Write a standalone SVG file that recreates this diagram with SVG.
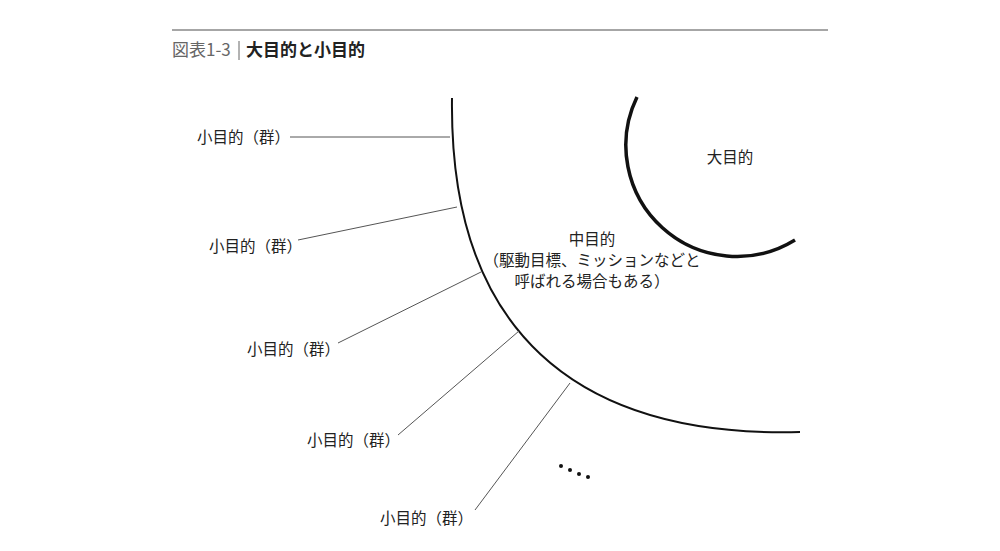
<svg xmlns="http://www.w3.org/2000/svg" width="1000" height="551" viewBox="0 0 1000 551">
<style>
text{font-family:"Noto Sans CJK JP","Noto Sans",sans-serif;fill:#222}
.l{font-size:15.5px}
.c{stroke:#555;stroke-width:1;fill:none}
</style>
<rect width="1000" height="551" fill="#fff"/>
<g id="header">
<line x1="172" y1="30" x2="828" y2="30" stroke="#888" stroke-width="1.5"/>
<text x="172" y="56" font-size="17" style="fill:#666">図表1-3</text>
<line x1="239" y1="41" x2="239" y2="60" stroke="#666" stroke-width="1"/>
<text x="246" y="56" font-size="17" font-weight="bold">大目的と小目的</text>
</g>
<g id="middle">
<path d="M452,98 C449,330 575,438 800,432" fill="none" stroke="#111" stroke-width="2"/>
<text x="592" y="245" class="l" text-anchor="middle">中目的</text>
<text x="592" y="266" class="l" text-anchor="middle">（駆動目標、ミッションなどと</text>
<text x="592" y="287" class="l" text-anchor="middle">呼ばれる場合もある）</text>
</g>
<g id="large">
<path d="M637,97 A111,111 0 0 0 795,240" fill="none" stroke="#111" stroke-width="3.5"/>
<text x="730" y="163" class="l" text-anchor="middle">大目的</text>
</g>
<g id="connectors">
<line class="c" x1="290" y1="137" x2="450" y2="137"/>
<line class="c" x1="298" y1="240" x2="457" y2="207"/>
<line class="c" x1="338" y1="343" x2="481" y2="272"/>
<line class="c" x1="398" y1="435" x2="519" y2="331"/>
<line class="c" x1="475" y1="510" x2="570" y2="383"/>
</g>
<g id="small1"><text x="197" y="143" class="l">小目的（群）</text></g>
<g id="small2"><text x="209" y="252" class="l">小目的（群）</text></g>
<g id="small3"><text x="247" y="355" class="l">小目的（群）</text></g>
<g id="small4"><text x="307" y="446" class="l">小目的（群）</text></g>
<g id="small5"><text x="380" y="524" class="l">小目的（群）</text></g>
<g id="dots" fill="#111">
<circle cx="561" cy="466" r="2"/><circle cx="570" cy="470" r="2"/><circle cx="579" cy="474" r="2"/><circle cx="588" cy="477" r="2"/>
</g>
</svg>
